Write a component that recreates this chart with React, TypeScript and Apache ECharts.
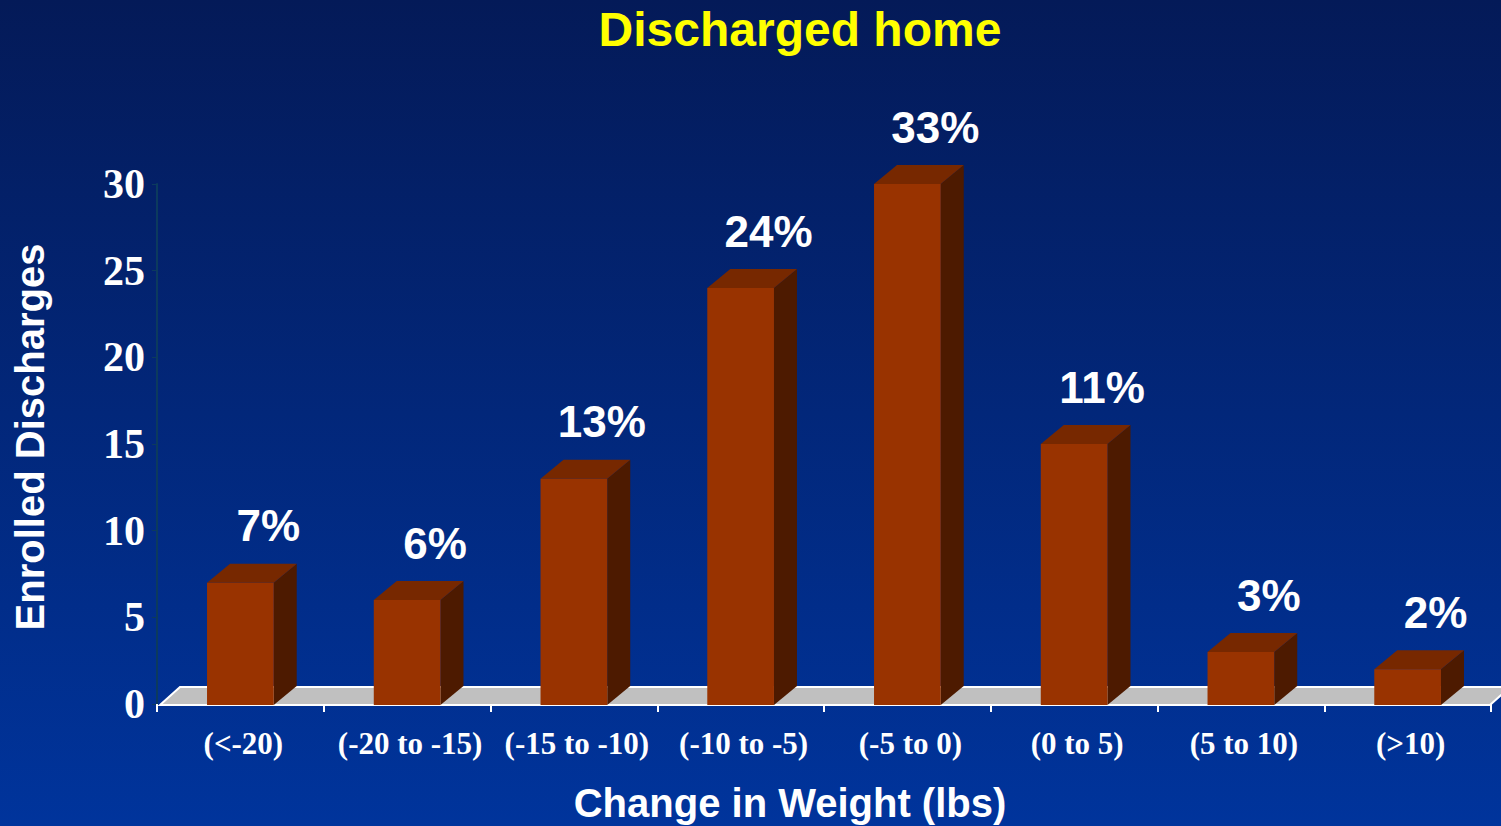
import React, { useEffect, useRef } from "react";
import * as echarts from "echarts";

// Weight-change bins and enrolled discharge counts
const categories = [
  "(<-20)",
  "(-20 to -15)",
  "(-15 to -10)",
  "(-10 to -5)",
  "(-5 to 0)",
  "(0 to 5)",
  "(5 to 10)",
  "(>10)",
];
const discharges = [7, 6, 13, 24, 30, 15, 3, 2];
const shareLabels = ["7%", "6%", "13%", "24%", "33%", "11%", "3%", "2%"];
const yTicks = [0, 5, 10, 15, 20, 25, 30];

// Layout
const W = 1501;
const H = 826;
const GRID_LEFT = 157;
const GRID_RIGHT = 10;
const GRID_TOP = 184;
const GRID_BOTTOM = 122;
const DEPTH_X = 23;
const DEPTH_Y = 19;

const FRONT = "#993300";
const TOP = "#772800";
const SIDE = "#4d1a00";

export default function App() {
  const ref = useRef<HTMLDivElement>(null);

  useEffect(() => {
    if (!ref.current) return;
    const chart = echarts.init(ref.current, null, { renderer: "svg" });

    const baseY = H - GRID_BOTTOM + 1;
    const floorLeft = GRID_LEFT + 3;
    const floorRight = W - GRID_RIGHT - 1;

    const option: any = {
      animation: false,
      backgroundColor: {
        type: "linear",
        x: 0,
        y: 0,
        x2: 0,
        y2: 1,
        colorStops: [
          { offset: 0, color: "#041a58" },
          { offset: 1, color: "#00349c" },
        ],
      },
      title: {
        text: "Discharged home",
        left: 795,
        textAlign: "center",
        top: 0,
        textStyle: {
          color: "#ffff00",
          fontFamily: "Liberation Sans, Arial, sans-serif",
          fontWeight: "bold",
          fontSize: 48,
        },
      },
      grid: {
        left: GRID_LEFT,
        right: GRID_RIGHT,
        top: GRID_TOP,
        bottom: GRID_BOTTOM,
      },
      graphic: [
        {
          type: "polygon",
          z: -1,
          shape: {
            points: [
              [floorLeft, baseY],
              [floorLeft + 20, baseY - 18],
              [floorRight + 20, baseY - 18],
              [floorRight, baseY],
            ],
          },
          style: { fill: "#c0c0c0", stroke: "#ffffff", lineWidth: 2 },
        },
        {
          type: "text",
          x: 790,
          y: 803,
          style: {
            text: "Change in Weight (lbs)",
            fill: "#ffffff",
            align: "center",
            verticalAlign: "middle",
            font: "bold 40px 'Liberation Sans', Arial, sans-serif",
          },
        },
        {
          type: "text",
          x: 30,
          y: 437,
          rotation: Math.PI / 2,
          style: {
            text: "Enrolled Discharges",
            fill: "#ffffff",
            align: "center",
            verticalAlign: "middle",
            font: "bold 40px 'Liberation Sans', Arial, sans-serif",
          },
        },
      ],
      xAxis: {
        type: "category",
        data: categories,
        boundaryGap: true,
        axisLine: { show: false },
        axisTick: {
          show: true,
          alignWithLabel: false,
          length: 8,
          lineStyle: { color: "#ffffff", width: 2 },
        },
        axisLabel: {
          interval: 0,
          color: "#ffffff",
          fontFamily: "Liberation Serif, Times New Roman, serif",
          fontWeight: "bold",
          fontSize: 31,
          margin: 24,
          padding: [0, 0, 0, 6],
        },
      },
      yAxis: {
        type: "value",
        min: 0,
        max: 30,
        interval: 5,
        splitLine: { show: false },
        axisLine: { show: true, lineStyle: { color: "#0c3a5e", width: 2 } },
        axisTick: { show: true, length: 5, lineStyle: { color: "#0c3a5e" } },
        axisLabel: {
          color: "#ffffff",
          fontFamily: "Liberation Serif, Times New Roman, serif",
          fontWeight: "bold",
          fontSize: 42,
          margin: 12,
          formatter: (v: number) => (yTicks.includes(v) ? String(v) : ""),
        },
      },
      series: [
        {
          type: "custom",
          z: 5,
          data: discharges.map((v, i) => [i, v]),
          renderItem: (params: any, api: any) => {
            const idx = api.value(0);
            const val = api.value(1);
            const top = api.coord([idx, val]);
            const base = api.coord([idx, 0]);
            const bw = api.size([1, 0])[0] * 0.4;
            const x0 = top[0] - bw / 2;
            const x1 = top[0] + bw / 2;
            const yT = top[1];
            const yB = base[1] + 1;
            return {
              type: "group",
              children: [
                {
                  type: "polygon",
                  shape: {
                    points: [
                      [x1, yT],
                      [x1 + DEPTH_X, yT - DEPTH_Y],
                      [x1 + DEPTH_X, yB - DEPTH_Y],
                      [x1, yB],
                    ],
                  },
                  style: { fill: SIDE },
                },
                {
                  type: "polygon",
                  shape: {
                    points: [
                      [x0, yT],
                      [x0 + DEPTH_X, yT - DEPTH_Y],
                      [x1 + DEPTH_X, yT - DEPTH_Y],
                      [x1, yT],
                    ],
                  },
                  style: { fill: TOP },
                },
                {
                  type: "rect",
                  shape: { x: x0, y: yT, width: bw, height: yB - yT },
                  style: { fill: FRONT },
                },
                {
                  type: "text",
                  x: top[0] + 28,
                  y: yT - 57,
                  style: {
                    text: shareLabels[idx],
                    fill: "#ffffff",
                    align: "center",
                    verticalAlign: "middle",
                    font: "bold 44px 'Liberation Sans', Arial, sans-serif",
                  },
                },
              ],
            };
          },
        },
      ],
    };

    chart.setOption(option);
    return () => chart.dispose();
  }, []);

  return (
    <div
      ref={ref}
      style={{ width: W, height: H, position: "absolute", left: 0, top: 0 }}
    />
  );
}
